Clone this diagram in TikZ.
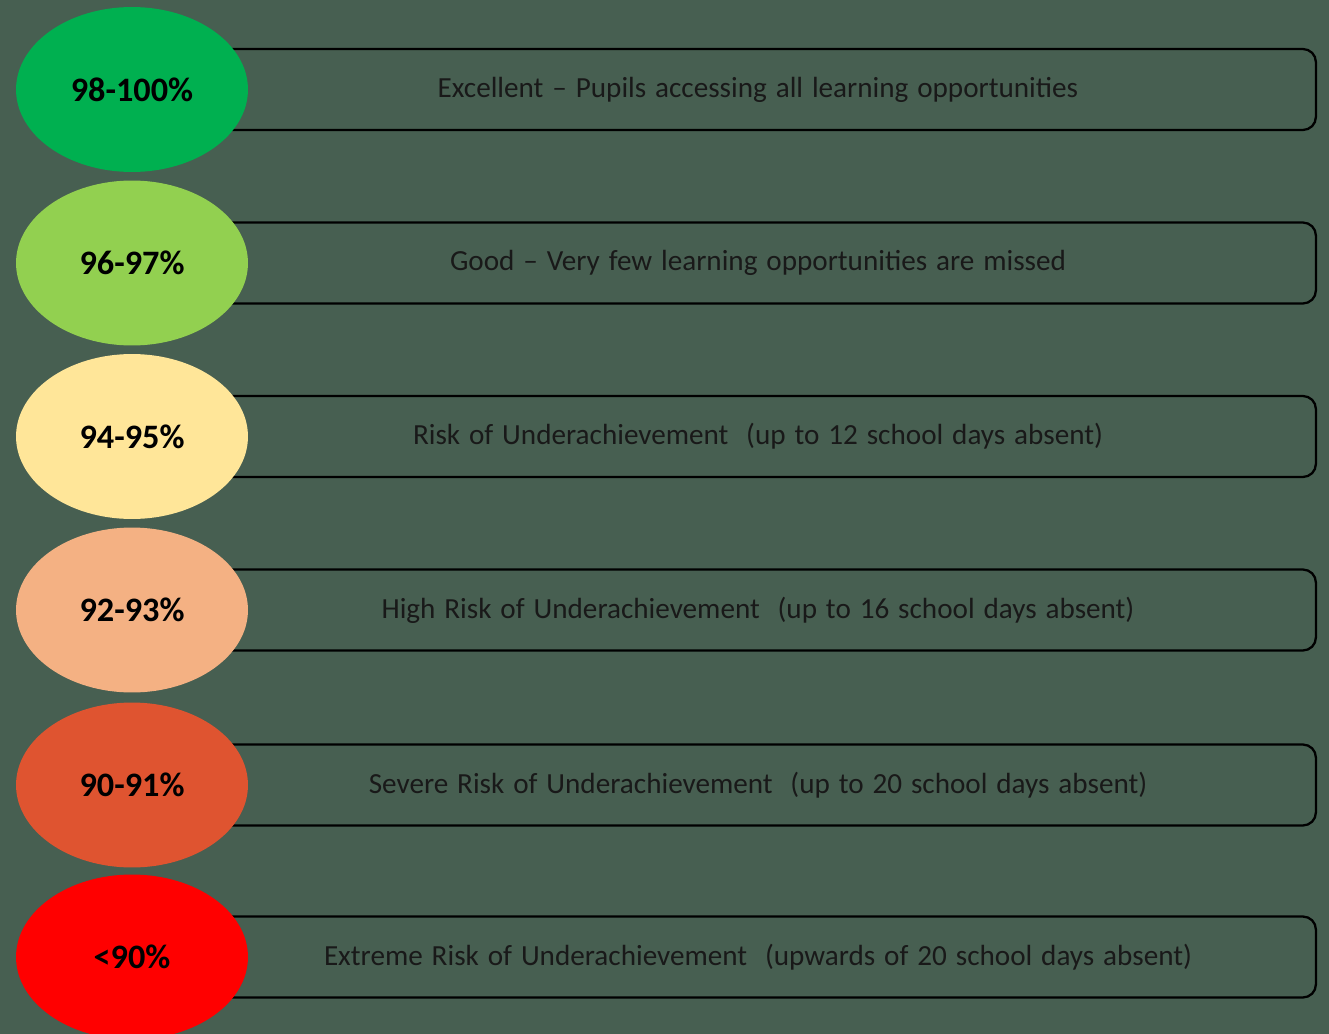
\documentclass[tikz,border=0pt]{standalone}
\usepackage{fontspec}
\setmainfont{Carlito}[WordSpace=1.35]
\usetikzlibrary{positioning, shapes.geometric}

\definecolor{bggreen}{RGB}{71,95,81}
\definecolor{pctA}{RGB}{0,176,80}
\definecolor{pctB}{RGB}{146,208,80}
\definecolor{pctC}{RGB}{255,230,153}
\definecolor{pctD}{RGB}{244,177,131}
\definecolor{pctE}{RGB}{223,84,48}
\definecolor{pctF}{RGB}{255,0,0}

\begin{document}
\begin{tikzpicture}[x=0.02cm, y=-0.02cm,
    band/.style={draw=black, line width=1.3pt, rounded corners=0.26cm,
        minimum width=22.32cm, minimum height=1.62cm, inner sep=0pt,
        text=black!90, font=\fontsize{16.6}{19}\selectfont},
    pct/.style={ellipse, minimum width=4.64cm, minimum height=3.3cm, inner sep=0pt,
        font=\bfseries\fontsize{19.5}{24}\selectfont}]

            %背景
            \fill[bggreen] (0,0) rectangle (1329,1034);
            \useasboundingbox (0,0) rectangle (1329,1034);

            %枠を書く
            \node[band] (r1) at (758,89.5) {Excellent -- Pupils accessing all learning opportunities};
            \node[band] (r2) at (758,263) {Good -- Very few learning opportunities are missed};
            \node[band] (r3) at (758,436.5) {Risk of Underachievement\ \ (up to 12 school days absent)};
            \node[band] (r4) at (758,610) {High Risk of Underachievement\ \ (up to 16 school days absent)};
            \node[band] (r5) at (758,785) {Severe Risk of Underachievement\ \ (up to 20 school days absent)};
            \node[band] (r6) at (758,957) {Extreme Risk of Underachievement\ \ (upwards of 20 school days absent)};

            %楕円を書く
            \node[pct, fill=pctA] (e1) at (132,89.5) {98-100\%};
            \node[pct, fill=pctB] (e2) at (132,263) {96-97\%};
            \node[pct, fill=pctC] (e3) at (132,436.5) {94-95\%};
            \node[pct, fill=pctD] (e4) at (132,610) {92-93\%};
            \node[pct, fill=pctE] (e5) at (132,785) {90-91\%};
            \node[pct, fill=pctF] (e6) at (132,957) {<90\%};
        \end{tikzpicture}
\end{document}
